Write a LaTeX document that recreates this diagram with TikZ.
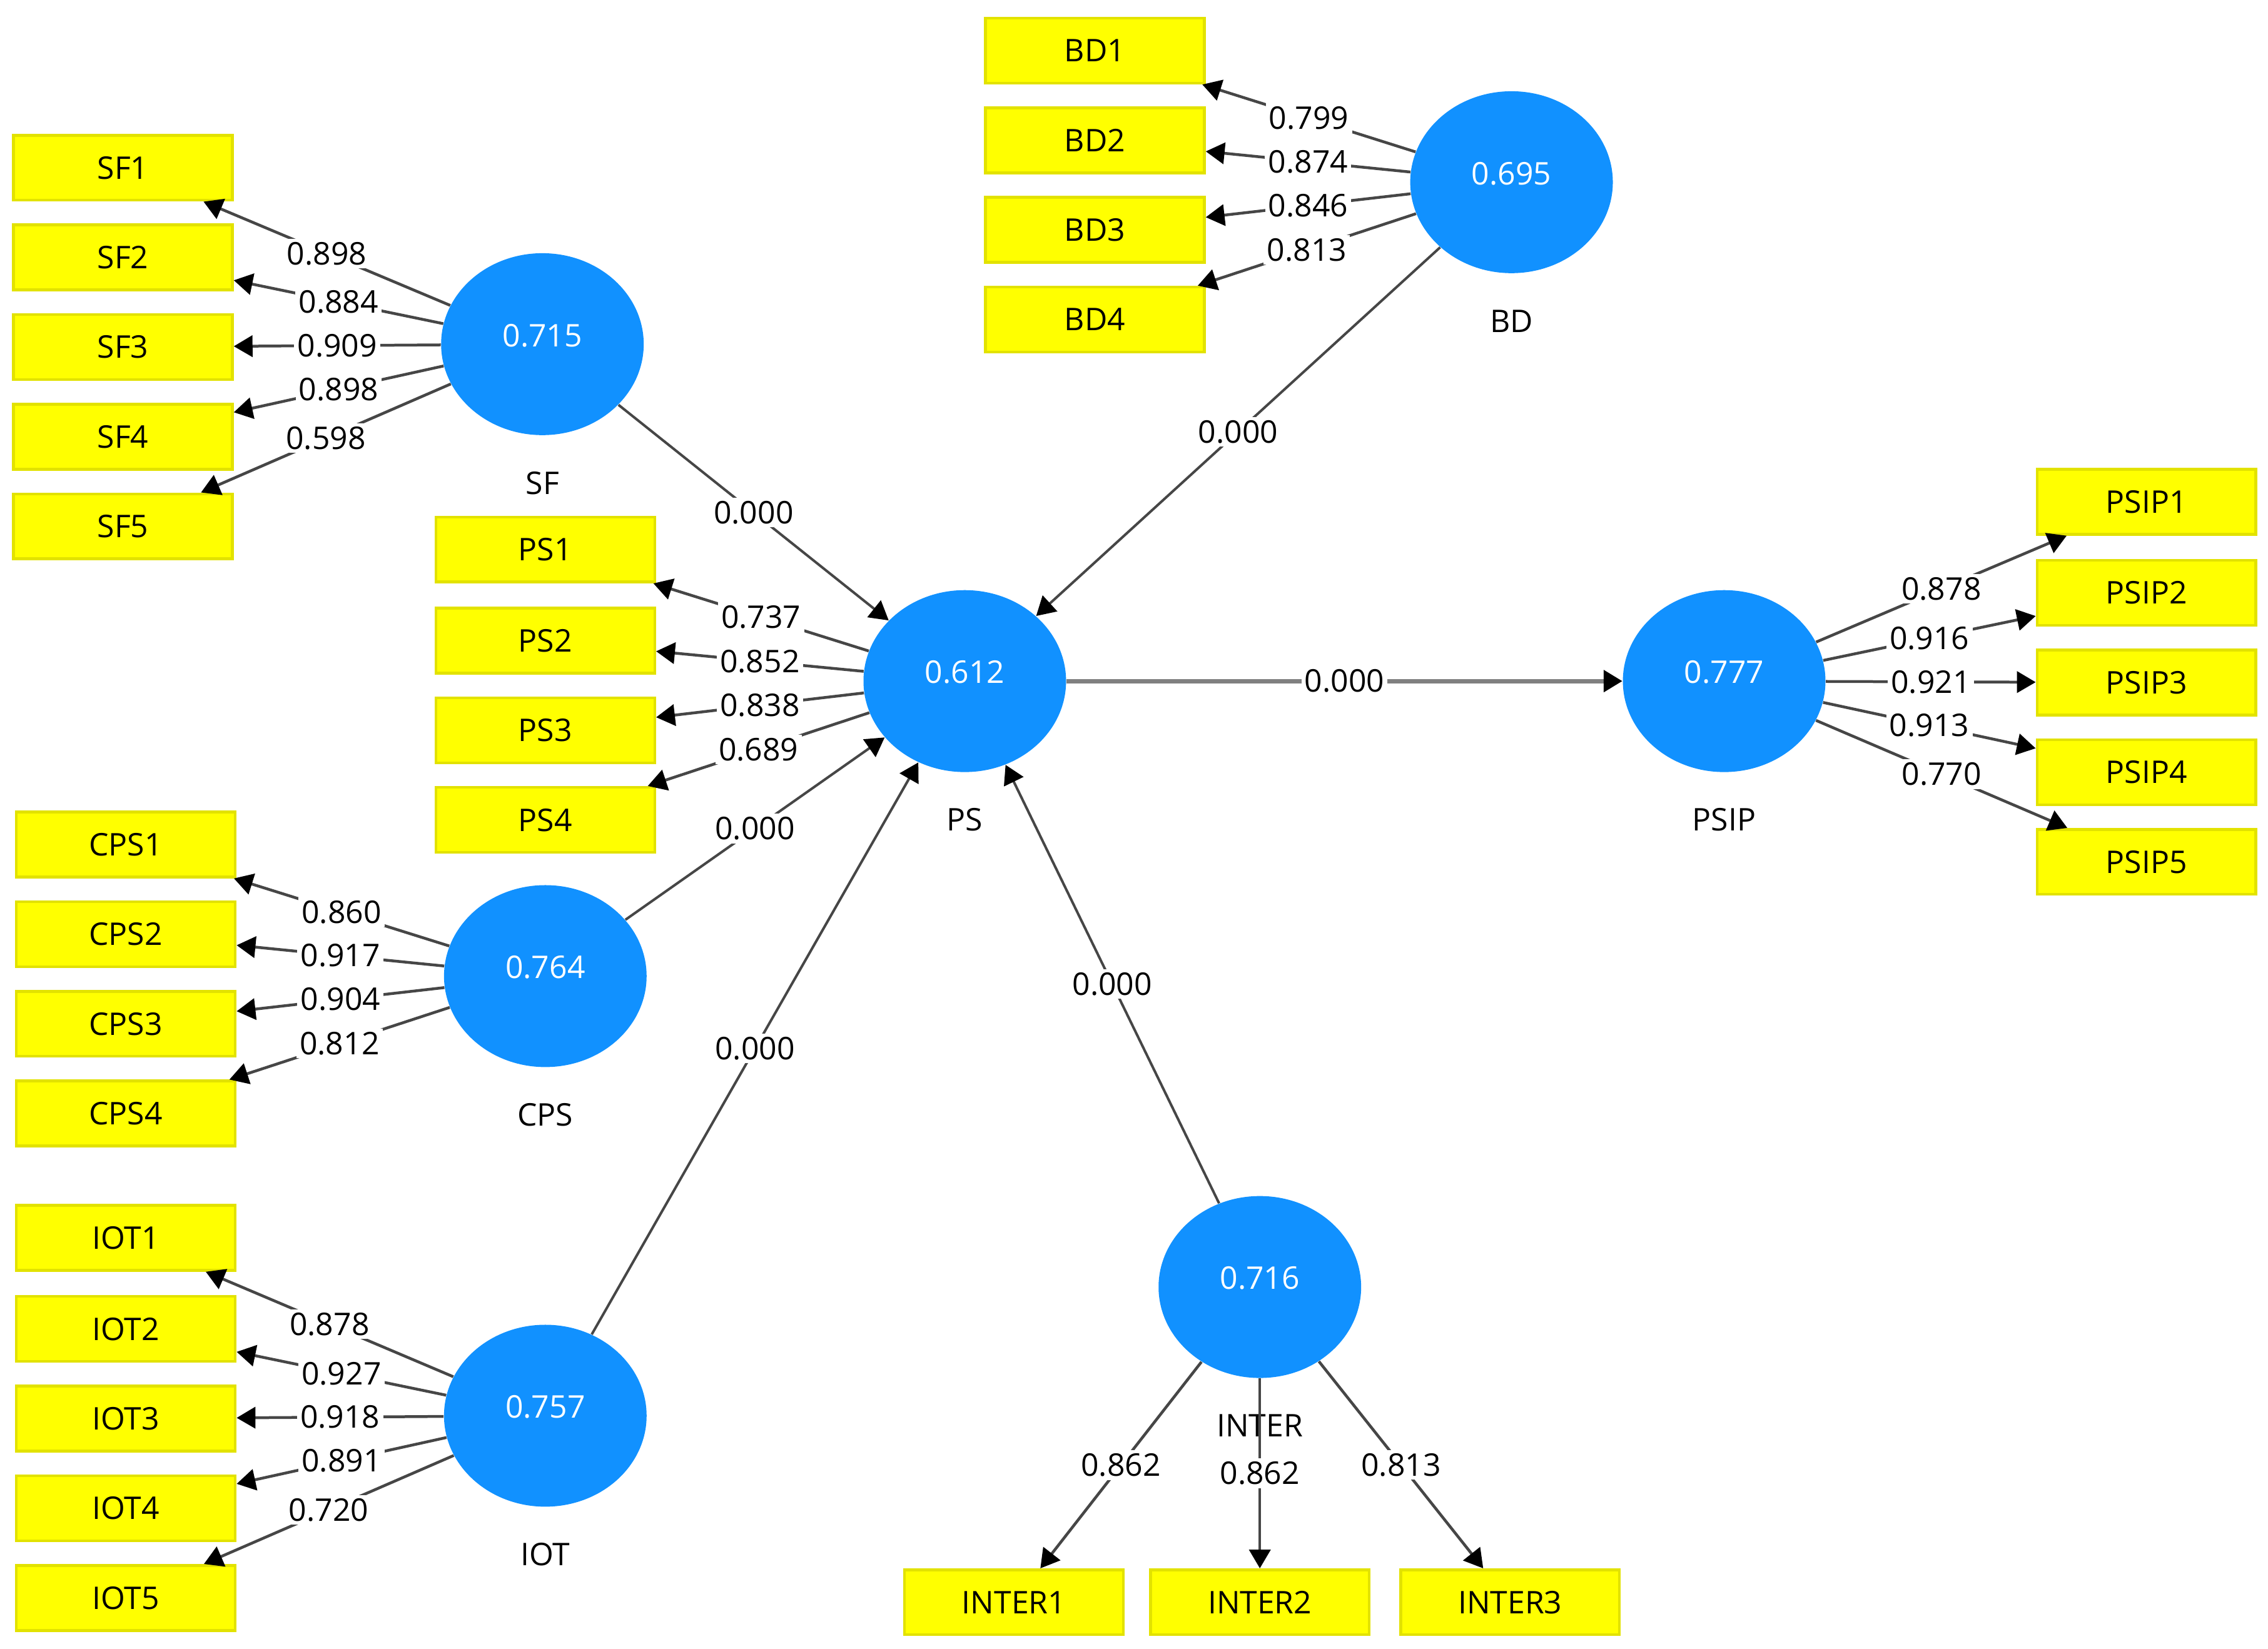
\documentclass[tikz,border=0pt]{standalone}
\usepackage{fontspec}
\setmainfont{Open Sans}
\usetikzlibrary{shapes.geometric,arrows.meta}
\definecolor{lvblue}{RGB}{17,145,255}
\definecolor{mvyellow}{RGB}{255,255,0}
\definecolor{mvedge}{RGB}{226,226,0}
\definecolor{linegray}{RGB}{70,70,70}
\begin{document}
\begin{tikzpicture}[x=0.023125cm,y=-0.023125cm,
  every node/.style={font=\fontsize{14.2pt}{17pt}\selectfont},
  mv/.style={draw=mvedge, line width=0.045cm, fill=mvyellow, minimum width=3.5cm, minimum height=1.04cm, inner sep=0pt},
  lv/.style={ellipse, fill=lvblue, minimum width=3.24cm, minimum height=2.91cm, inner sep=0pt},
  val/.style={text=white},
  lbl/.style={fill=white, inner sep=1.5pt, pos=0.5},
  load/.style={draw=linegray, line width=0.045cm, -{Triangle[length=0.3cm,width=0.34cm,color=black]}},
  struct/.style={draw=linegray, line width=0.04cm, -{Triangle[length=0.3cm,width=0.34cm,color=black]}},
]
\useasboundingbox (0,0) rectangle (1568,1140);
% latent variables
\node[lv] (SF) at (375,238) {};
\node[lv] (PS) at (667,471) {};
\node[lv] (BD) at (1045,126) {};
\node[lv] (PSIP) at (1192,471) {};
\node[lv] (CPS) at (377,675) {};
\node[lv] (IOT) at (377,979) {};
\node[lv] (INTER) at (871,890) {};
\foreach \n/\v in {SF/0.715,PS/0.612,BD/0.695,PSIP/0.777,CPS/0.764,IOT/0.757,INTER/0.716}{
  \node[val] (v\n) at ([yshift=0.14cm]\n.center) {\v};
  \node (t\n) at ([yshift=-2.22cm]\n.center) {\n};
}
% indicators
\foreach \i/\y in {1/116,2/178,3/240,4/302,5/364}{\node[mv] (SF\i) at (85,\y) {SF\i};}
\foreach \i/\y in {1/380,2/443,3/505,4/567}{\node[mv] (PS\i) at (377,\y) {PS\i};}
\foreach \i/\y in {1/35,2/97,3/159,4/221}{\node[mv] (BD\i) at (757,\y) {BD\i};}
\foreach \i/\y in {1/584,2/646,3/708,4/770}{\node[mv] (CPS\i) at (87,\y) {CPS\i};}
\foreach \i/\y in {1/856,2/919,3/981,4/1043,5/1105}{\node[mv] (IOT\i) at (87,\y) {IOT\i};}
\foreach \i/\y in {1/347,2/410,3/472,4/534,5/596}{\node[mv] (PSIP\i) at (1484,\y) {PSIP\i};}
\foreach \i/\x in {1/701,2/871,3/1044}{\node[mv] (INTER\i) at (\x,1108) {INTER\i};}
% loadings
\foreach \lv/\list in {SF/{1/0.898,2/0.884,3/0.909,4/0.898,5/0.598},
                       PS/{1/0.737,2/0.852,3/0.838,4/0.689},
                       BD/{1/0.799,2/0.874,3/0.846,4/0.813},
                       CPS/{1/0.860,2/0.917,3/0.904,4/0.812},
                       IOT/{1/0.878,2/0.927,3/0.918,4/0.891,5/0.720},
                       PSIP/{1/0.878,2/0.916,3/0.921,4/0.913,5/0.770},
                       INTER/{1/0.862,2/0.862,3/0.813}}{
  \foreach \i/\w in \list {
    \draw[load] (\lv) -- node[lbl] {\w} (\lv\i);
  }
}
% structural paths
\draw[struct] (SF) -- node[lbl] {0.000} (PS);
\draw[struct] (BD) -- node[lbl] {0.000} (PS);
\draw[struct] (CPS) -- node[lbl] {0.000} (PS);
\draw[struct] (IOT) -- node[lbl] {0.000} (PS);
\draw[struct] (INTER) -- node[lbl] {0.000} (PS);
\draw[struct, line width=0.07cm, draw=gray] (PS) -- node[lbl] {0.000} (PSIP);
\end{tikzpicture}
\end{document}
